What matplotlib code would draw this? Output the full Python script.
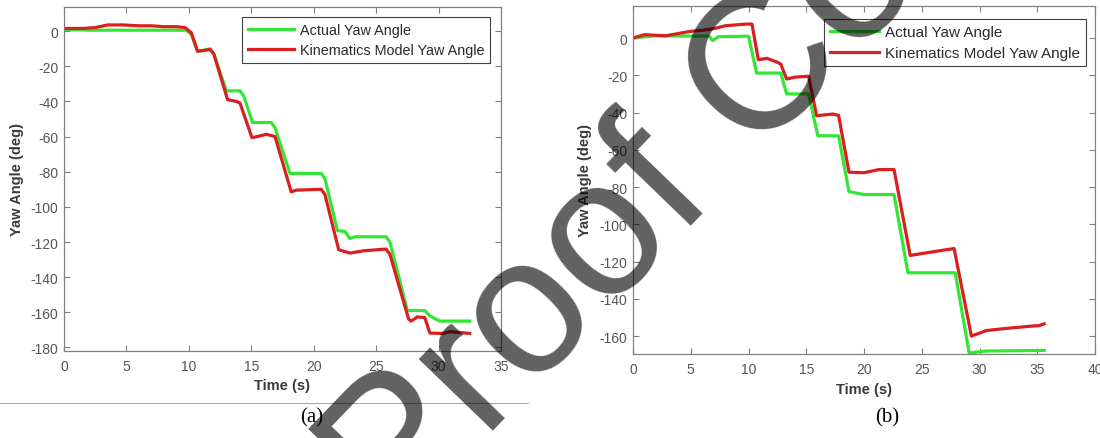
import matplotlib
matplotlib.use('Agg')
import matplotlib.pyplot as plt
from matplotlib.lines import Line2D

plt.rcParams['font.family'] = ['Liberation Sans', 'DejaVu Sans']
plt.rcParams['axes.unicode_minus'] = False

# (a) yaw angle traces
t_a_actual = [0, 2, 4, 6, 8, 9.8, 10.2, 10.7, 11.2, 11.7, 12.0, 13.0, 13.3, 14.1, 14.4,
              15.1, 15.4, 16.6, 16.9, 18.1, 18.4, 20.6, 20.9, 21.9, 22.5, 22.9, 23.3,
              25.8, 26.1, 27.5, 27.8, 28.9, 29.3, 30.1, 32.5]
yaw_a_actual = [1, 0.5, 0.5, 0.5, 0.5, 0.5, -2, -11.5, -11, -10, -13, -34, -34, -34, -37,
                -52, -52, -52, -55, -81, -81, -81, -84, -113.5, -114, -118, -117,
                -117, -120, -159, -159, -159, -162, -165, -165]

t_a_model = [0, 1.5, 2.5, 3.5, 4.7, 6, 7, 8, 9, 9.7, 10.2, 10.7, 11.2, 11.7, 12.0, 13.1,
             13.8, 14.1, 15.05, 15.5, 16.2, 16.9, 18.2, 18.6, 20.6, 20.9, 22.0, 22.9,
             24, 25.8, 26.1, 27.6, 27.8, 28.3, 28.9, 29.3, 30.4, 30.9, 32.5]
yaw_a_model = [1.5, 1.5, 2, 3.5, 3.5, 3, 3, 2.5, 2.5, 2, -1, -11.5, -11, -10.5, -13, -39,
               -40, -41, -60.6, -60, -58.7, -60, -91.5, -90.5, -90, -93, -124.4, -126.3,
               -125, -124, -127, -163.8, -165, -162.6, -163, -171.8, -172, -171, -172]

# (b) yaw angle traces
t_b_actual = [0, 1.9, 6.6, 6.9, 7.4, 10.0, 10.7, 12.8, 13.3, 15.2, 16.0, 17.8, 18.7, 20,
              22.6, 23.8, 27.9, 29.1, 30.6, 35.6]
yaw_b_actual = [0, 1.2, 1, -1.4, 0.7, 1, -18.8, -18.8, -30, -30, -52.4, -52.5, -82.4, -84,
                -84, -126, -126, -169, -168, -167.7]

t_b_model = [0, 1, 2.8, 5, 6.2, 7.1, 8, 9.8, 10.3, 10.85, 11.6, 12.5, 12.8, 13.3, 14,
             15.2, 15.9, 17.3, 17.8, 18.7, 20, 21.3, 22.6, 24, 24.9, 26.1, 27.8, 29.3,
             30.6, 32.1, 34.2, 35.2, 35.6]
yaw_b_model = [0, 1.8, 1.2, 3.6, 4.3, 5.2, 6.6, 7.5, 7.5, -11.6, -10.9, -13, -14, -22, -21,
               -20.5, -41.7, -40.8, -41.5, -72, -72.3, -70.6, -70.6, -116.7, -115.8,
               -114.6, -113, -160, -157, -156, -154.8, -154.3, -153.4]

GREEN = '#33e633'
RED = '#d91f1f'

fig = plt.figure(figsize=(11, 4.39), dpi=100)
ax_a = fig.add_axes([64/1100, 1-352/439, 437/1100, 344/439])
ax_b = fig.add_axes([633/1100, 1-355/439, 462/1100, 348/439])


def draw_panel(ax, t1, y1, t2, y2, xmax, ylim, yticks, leg_anchor, leg_size, lab_x, lab_y):
    ax.plot(t1, y1, color=GREEN, lw=2.3, label='Actual Yaw Angle')
    ax.plot(t2, y2, color=RED, lw=2.3, label='Kinematics Model Yaw Angle')
    ax.set_xlim(0, xmax)
    ax.set_ylim(*ylim)
    ax.set_xticks(range(0, xmax + 1, 5))
    ax.set_yticks(yticks)
    for s in ax.spines.values():
        s.set_color('#808080')
        s.set_linewidth(0.9)
    ax.tick_params(direction='in', top=True, right=True, length=4, width=0.8,
                   color='#808080', labelcolor='#555555', labelsize=10)
    ax.tick_params(axis='x', pad=6)
    ax.tick_params(axis='y', pad=4)
    ax.set_xlabel('Time (s)', fontweight='bold', fontsize=10.5, color='#3a3a3a')
    ax.set_ylabel('Yaw Angle (deg)', fontweight='bold', fontsize=10.5, color='#3a3a3a')
    ax.xaxis.label.set_va('center')
    ax.yaxis.label.set_va('center')
    ax.xaxis.set_label_coords(0.5, lab_y)
    ax.yaxis.set_label_coords(lab_x, 0.5)
    leg = ax.legend(loc='upper right', bbox_to_anchor=leg_anchor, borderaxespad=0,
                    fontsize=leg_size, handlelength=3.2, handletextpad=0.35,
                    labelspacing=0.42, borderpad=0.42, fancybox=False, framealpha=1)
    leg.get_frame().set_edgecolor('#404040')
    leg.get_frame().set_linewidth(0.8)
    for txt in leg.get_texts():
        txt.set_color('#2b2b2b')


draw_panel(ax_a, t_a_actual, yaw_a_actual, t_a_model, yaw_a_model, 35, (-182, 13.7),
           range(-180, 1, 20), (0.975, 0.971), 10.4, -0.1075, -0.099)
draw_panel(ax_b, t_b_actual, yaw_b_actual, t_b_model, yaw_b_model, 40, (-169.6, 17.2),
           range(-160, 1, 20), (0.9805, 0.9626), 11, -0.104, -0.10)

# captions and separator rule
fig.text(312/1100, 1-418/439, '(a)', family='Liberation Serif', fontsize=15,
         ha='center', va='center')
fig.text(887/1100, 1-418/439, '(b)', family='Liberation Serif', fontsize=15,
         ha='center', va='center')
fig.add_artist(Line2D([0, 528/1100], [1-404/439, 1-404/439], color='#a8a8a8', lw=0.8))

# watermark, anchored at its baseline start (below the bottom edge)
fig.text(0.3585, -0.2157, 'Proof Copy', fontsize=140, rotation=46, rotation_mode='anchor',
         ha='left', va='baseline', color='black', alpha=0.62, zorder=10)

fig.savefig('out.png', dpi=100)
